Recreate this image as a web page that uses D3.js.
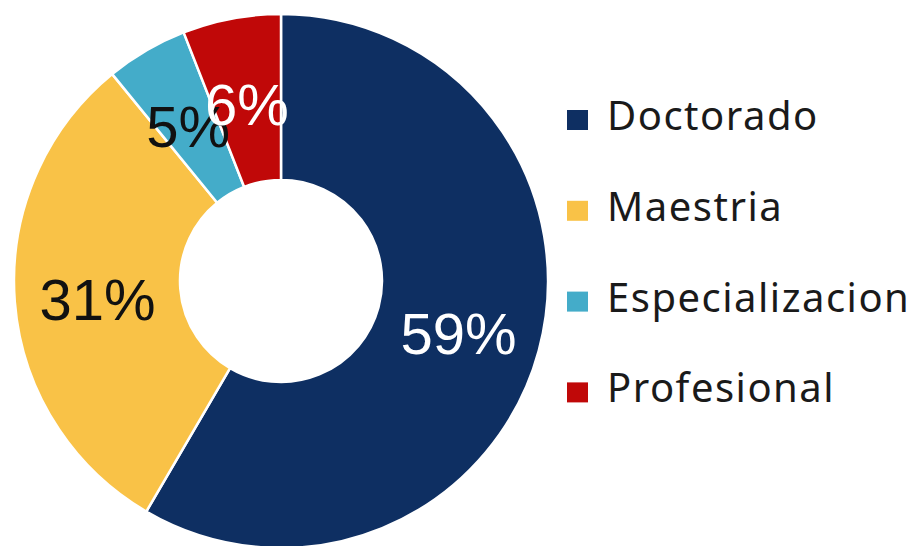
<!DOCTYPE html>
<html><head><meta charset="utf-8">
<script src="https://cdn.jsdelivr.net/npm/d3@7"></script>
<style>html,body{margin:0;padding:0;background:#fff;}svg{display:block;}</style>
</head><body>
<script>
const categories = ["Doctorado", "Maestria", "Especializacion", "Profesional"];
const values = [59, 31, 5, 6];
const labels = ["59%", "31%", "5%", "6%"];
const colors = ["#0e2f62", "#f9c247", "#44acc9", "#c00808"];
const labelColors = ["#ffffff", "#111111", "#111111", "#ffffff"];

const W = 916, H = 546;
const svg = d3.select("body").append("svg").attr("width", W).attr("height", H);
const cx = 281, cy = 281, rOuter = 267, rInner = 101;

const data = categories.map((c, i) => ({cat: c, value: values[i], label: labels[i], color: colors[i], lc: labelColors[i]}));
const pie = d3.pie().value(d => d.value).sort(null);
const arc = d3.arc().innerRadius(rInner).outerRadius(rOuter);
const arcs = pie(data);

const g = svg.append("g").attr("transform", `translate(${cx},${cy})`);
g.selectAll("path").data(arcs).join("path")
  .attr("d", arc).attr("fill", d => d.data.color)
  .attr("stroke", "#fff").attr("stroke-width", 2.5).attr("stroke-linejoin", "round");

g.selectAll("text").data(arcs).join("text")
  .attr("transform", d => { const c = arc.centroid(d); return `translate(${c[0]},${c[1] + 4})`; })
  .attr("text-anchor", "middle").attr("dominant-baseline", "central")
  .attr("font-family", "'Liberation Sans', Arial, sans-serif")
  .attr("font-size", 58)
  .attr("fill", d => d.data.lc)
  .text(d => d.data.label);

const legend = svg.append("g");
const y0 = 130, dy = 90.8;
const items = legend.selectAll("g").data(data).join("g")
  .attr("transform", (d, i) => `translate(567,${y0 + i * dy})`);
items.append("rect").attr("x", 0).attr("y", -20).attr("width", 21).attr("height", 20).attr("fill", d => d.color);
items.append("text").attr("x", 40).attr("y", 0)
  .attr("font-family", "'Noto Sans', 'Open Sans', sans-serif")
  .attr("font-size", 40).attr("fill", "#1a1a1a")
  .attr("letter-spacing", 1.5)
  .text(d => d.cat);
</script>
</body></html>
